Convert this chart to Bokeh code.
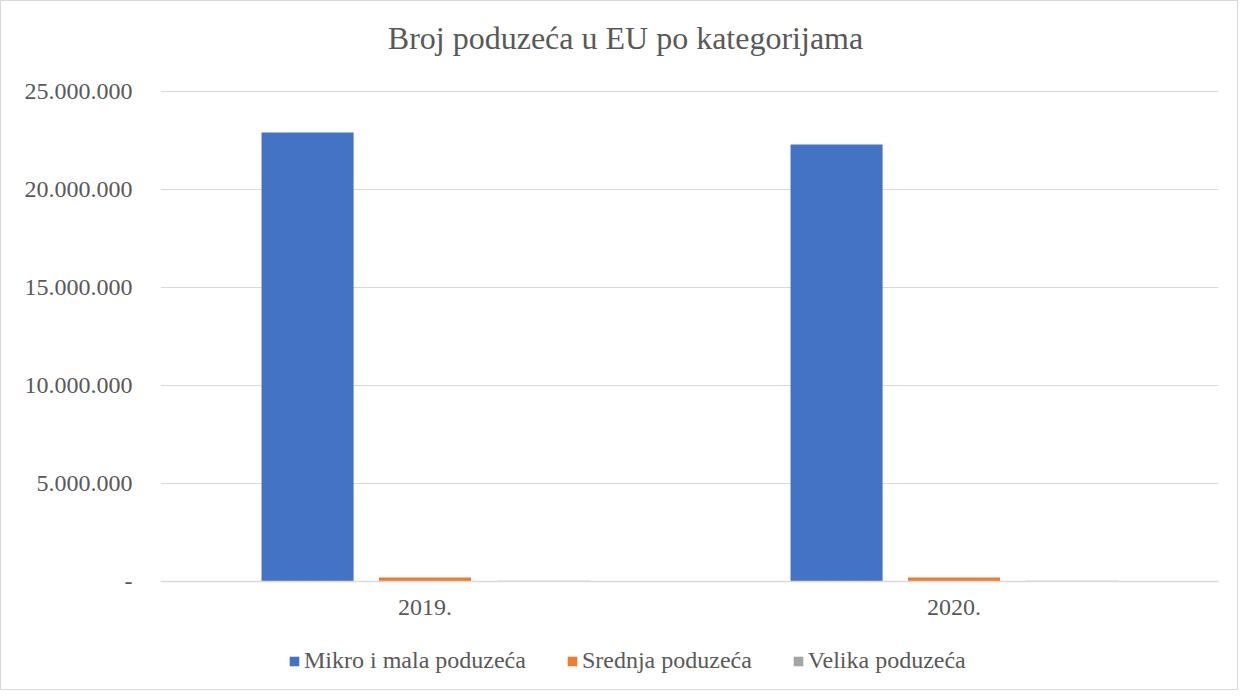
from bokeh.plotting import figure
from bokeh.models import ColumnDataSource, FactorRange, Range1d, FixedTicker, Legend, LegendItem, Label
from bokeh.layouts import column
from bokeh.transform import dodge
from bokeh.embed import file_html
from bokeh.resources import INLINE

title_text = "Broj poduzeća u EU po kategorijama"
years = ["2019.", "2020."]
mikro_mala = [22900000, 22300000]
srednja = [200000, 199000]
velika = [43000, 42000]
series_names = ["Mikro i mala poduzeća", "Srednja poduzeća", "Velika poduzeća"]
colors = ["#4472C4", "#ED7D31", "#A5A5A5"]
y_ticks = [0, 5000000, 10000000, 15000000, 20000000, 25000000]
y_tick_labels = ["-", "5.000.000", "10.000.000", "15.000.000", "20.000.000", "25.000.000"]

src = ColumnDataSource(dict(years=years, m=mikro_mala, s=srednja, v=velika))

FONT = "Liberation Serif"
GREY = "#595959"
LEFT, RIGHT = 159, 19

# title strip
p0 = figure(width=1236, height=75, x_range=Range1d(0, 1058), y_range=Range1d(0, 75),
            x_axis_type=None, y_axis_type=None, output_backend="svg", toolbar_location=None,
            min_border_left=LEFT, min_border_right=RIGHT, min_border_top=0, min_border_bottom=0)
p0.outline_line_color = None
p0.grid.grid_line_color = None
p0.add_layout(Label(x=465, y=39, text=title_text, text_align="center", text_baseline="middle",
                    text_font=FONT, text_font_size="32px", text_color=GREY))

# main chart
p = figure(width=1236, height=557, x_range=FactorRange(factors=years),
           y_range=Range1d(0, 25100000), output_backend="svg", toolbar_location=None,
           min_border_left=LEFT, min_border_right=RIGHT, min_border_top=13, min_border_bottom=52)

offsets = [-0.222, 0.0, 0.224]
fields = ["m", "s", "v"]
for f, off, c in zip(fields, offsets, colors):
    p.vbar(x=dodge("years", off, range=p.x_range), top=f, width=0.174, source=src,
           fill_color=c, line_color=None)

p.yaxis.ticker = FixedTicker(ticks=y_ticks)
p.yaxis.major_label_overrides = {t: l for t, l in zip(y_ticks, y_tick_labels)}
for ax in [p.xaxis[0], p.yaxis[0]]:
    ax.major_label_text_font = FONT
    ax.major_label_text_font_size = "24px"
    ax.major_label_text_color = GREY
    ax.major_tick_line_color = None
    ax.minor_tick_line_color = None
p.yaxis.axis_line_color = None
p.yaxis.major_label_standoff = 22
p.xaxis.axis_line_color = "#d9d9d9"
p.xaxis.axis_line_width = 1.5
p.xaxis.major_label_standoff = 12
p.xgrid.grid_line_color = None
p.ygrid.grid_line_color = "#d9d9d9"
p.ygrid.grid_line_width = 1
p.outline_line_color = None

# legend strip
p2 = figure(width=1236, height=56, x_range=Range1d(0, 1), y_range=Range1d(0, 1),
            x_axis_type=None, y_axis_type=None, output_backend="svg", toolbar_location=None,
            min_border_left=LEFT, min_border_right=RIGHT, min_border_top=0, min_border_bottom=0)
p2.outline_line_color = None
p2.grid.grid_line_color = None
leg_renderers = []
for c in colors:
    r = p2.vbar(x=[0.5], top=[0], bottom=[0], width=0.0, fill_color=c, line_color=None)
    leg_renderers.append(r)

legend = Legend(items=[LegendItem(label=n, renderers=[r]) for n, r in zip(series_names, leg_renderers)],
                orientation="horizontal", location=(128, 15),
                label_text_font=FONT, label_text_font_size="24px", label_text_color=GREY,
                glyph_width=12, glyph_height=12, spacing=40, label_standoff=4,
                border_line_color=None, background_fill_alpha=0, margin=0, padding=0)
p2.add_layout(legend)

layout = column(p0, p, p2, spacing=0, styles={"border": "1px solid #d9d9d9"})

open("out.html", "w").write(file_html(layout, INLINE))
